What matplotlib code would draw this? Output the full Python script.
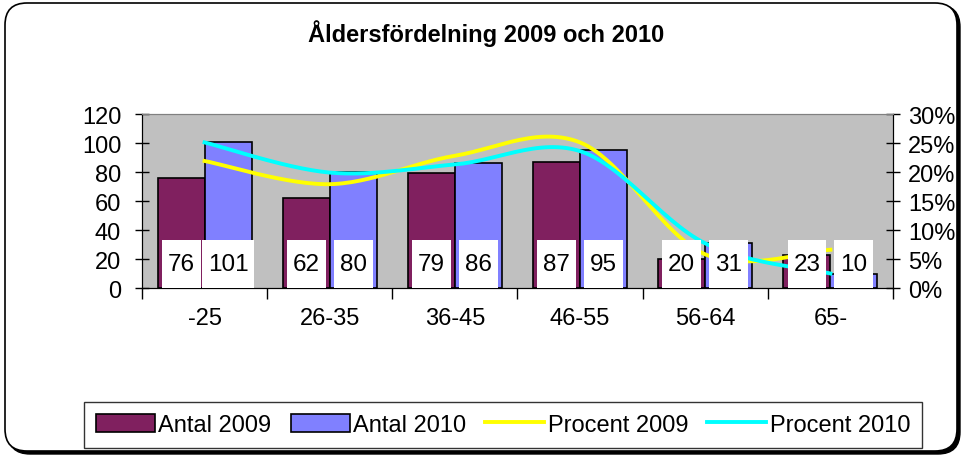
import numpy as np
import matplotlib.pyplot as plt
from matplotlib.patches import FancyBboxPatch, Rectangle, Patch
from matplotlib.lines import Line2D
from matplotlib.ticker import FuncFormatter, MultipleLocator

plt.rcParams['font.family'] = ['Liberation Sans', 'DejaVu Sans']

# data
categories = ['-25', '26-35', '36-45', '46-55', '56-64', '65-']
antal_2009 = [76, 62, 79, 87, 20, 23]
antal_2010 = [101, 80, 86, 95, 31, 10]
procent_2009 = [21.9, 17.9, 22.8, 25.1, 5.8, 6.6]
procent_2010 = [25.1, 19.9, 21.3, 23.6, 7.7, 2.5]

c_2009 = '#80205F'
c_2010 = '#8080FF'


def smooth(x, y, n=30):
    # Catmull-Rom style bezier, close to Excel's "smoothed line"
    x = np.asarray(x, float)
    y = np.asarray(y, float)
    px = np.concatenate(([x[0]], x, [x[-1]]))
    py = np.concatenate(([y[0]], y, [y[-1]]))
    t = np.linspace(0, 1, n)
    xs, ys = [], []
    for i in range(1, len(px) - 2):
        p0 = np.array([px[i], py[i]])
        p3 = np.array([px[i + 1], py[i + 1]])
        c1 = p0 + (p3 - np.array([px[i - 1], py[i - 1]])) / 6
        c2 = p3 - (np.array([px[i + 2], py[i + 2]]) - p0) / 6
        b = ((1 - t) ** 3)[:, None] * p0 + (3 * (1 - t) ** 2 * t)[:, None] * c1 \
            + (3 * (1 - t) * t ** 2)[:, None] * c2 + (t ** 3)[:, None] * p3
        xs.append(b[:, 0])
        ys.append(b[:, 1])
    return np.concatenate(xs), np.concatenate(ys)


fig = plt.figure(figsize=(9.64, 4.56), dpi=100)

# outer rounded frame with shadow
shadow = FancyBboxPatch((8, 1), 952, 449, boxstyle='round,pad=0,rounding_size=22',
                        transform=None, facecolor='black', edgecolor='black', zorder=-2)
frame = FancyBboxPatch((5, 4), 952, 448, boxstyle='round,pad=0,rounding_size=22',
                       transform=None, facecolor='white', edgecolor='black', lw=1.2, zorder=-1)
fig.patches.extend([shadow, frame])

ax = fig.add_axes([0.1473, 0.3662, 0.779, 0.3816])
ax.set_facecolor('#C0C0C0')
x = np.arange(len(categories))
w = 0.375
ax.bar(x - w / 2, antal_2009, w, color=c_2009, edgecolor='black', lw=1.2, zorder=2)
ax.bar(x + w / 2, antal_2010, w, color=c_2010, edgecolor='black', lw=1.2, zorder=2)
ax.set_xlim(-0.5, len(categories) - 0.5)
ax.set_ylim(0, 120)
ax.yaxis.set_major_locator(MultipleLocator(20))
ax.set_xticks(x)
ax.set_xticklabels(categories)
ax.set_xticks(np.arange(-0.5, len(categories)), minor=True)
ax.tick_params(axis='x', which='major', length=0, pad=14, labelsize=17)
ax.tick_params(axis='x', which='minor', length=8, width=1, direction='out')
ax.tick_params(axis='y', length=10, width=1, direction='inout', labelsize=17, pad=10)
ax.spines['top'].set_color('#808080')
for s in ['left', 'bottom', 'right']:
    ax.spines[s].set_color('black')

ax2 = ax.twinx()
ax2.set_ylim(0, 0.30)
ax2.yaxis.set_major_locator(MultipleLocator(0.05))
ax2.yaxis.set_major_formatter(FuncFormatter(lambda v, p: f'{v * 100:.0f}%'))
ax2.tick_params(axis='y', length=10, width=1, direction='inout', labelsize=17, pad=6)
ax2.spines['top'].set_color('#808080')

sx, sy = smooth(x, np.array(procent_2009) / 100)
ax2.plot(sx, sy, color='#FFFF00', lw=2.8, zorder=3)
sx, sy = smooth(x, np.array(procent_2010) / 100)
ax2.plot(sx, sy, color='#00FFFF', lw=2.8, zorder=3)

# data labels in white boxes, drawn above the lines
for xs_, vals in [(x - w / 2, antal_2009), (x + w / 2, antal_2010)]:
    for xi, v in zip(xs_, vals):
        s = str(v)
        bw = 0.1 + 0.105 * len(s)
        ax2.add_patch(Rectangle((xi - bw / 2, 0), bw, 33, transform=ax.transData,
                                facecolor='white', edgecolor='none', zorder=4))
        ax2.text(xi, 16.5, s, transform=ax.transData, ha='center', va='center',
                 fontsize=17.5, zorder=5)

fig.text(0.504, 0.927, 'Åldersfördelning 2009 och 2010', ha='center', va='center',
         fontsize=17, fontweight='bold')

handles = [Patch(facecolor=c_2009, edgecolor='black', lw=1.2),
           Patch(facecolor=c_2010, edgecolor='black', lw=1.2),
           Line2D([], [], color='#FFFF00', lw=2.8),
           Line2D([], [], color='#00FFFF', lw=2.8)]
labels = ['Antal 2009', 'Antal 2010', 'Procent 2009', 'Procent 2010']
leg = fig.legend(handles, labels, loc='center', bbox_to_anchor=(0.5218, 0.0658), ncol=4,
                 fontsize=17, frameon=True, fancybox=False, handlelength=2.5,
                 handletextpad=0.15, columnspacing=0.8, borderpad=0.5, handleheight=0.8,
                 borderaxespad=0)
leg.get_frame().set_edgecolor('black')
leg.get_frame().set_linewidth(1.0)

fig.savefig('out.png', dpi=100)
